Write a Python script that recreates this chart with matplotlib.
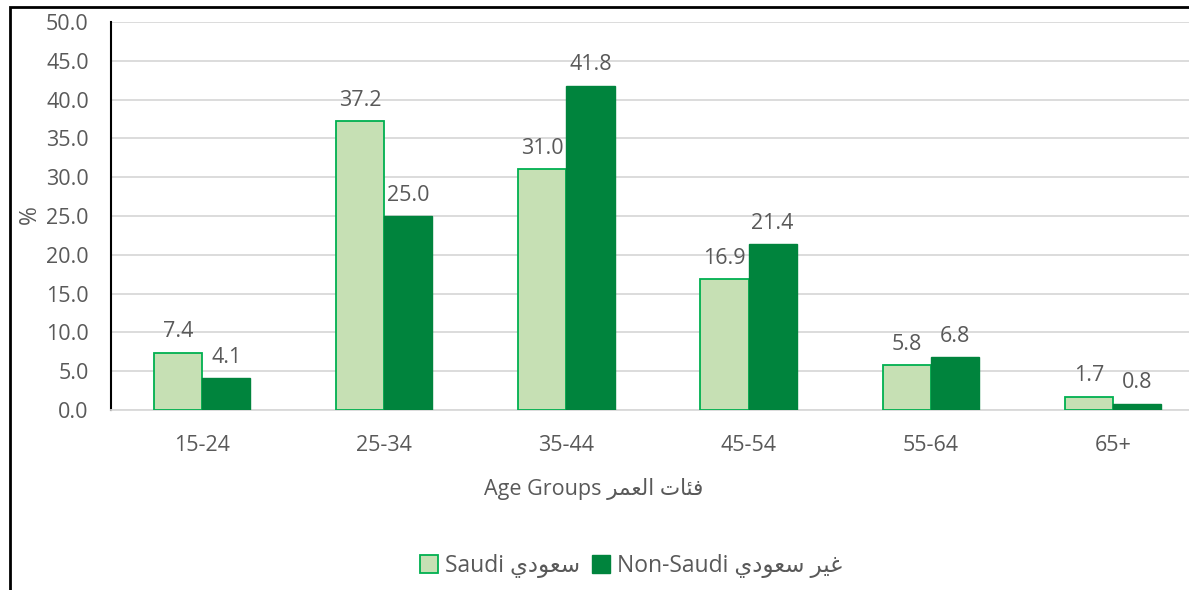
import matplotlib
matplotlib.use("Agg")
import matplotlib.pyplot as plt
import matplotlib.patches as mpatches
import numpy as np

categories = ["15-24", "25-34", "35-44", "45-54", "55-64", "65+"]
saudi = [7.4, 37.2, 31.0, 16.9, 5.8, 1.7]
non_saudi = [4.1, 25.0, 41.8, 21.4, 6.8, 0.8]
y_ticks = [0, 5, 10, 15, 20, 25, 30, 35, 40, 45, 50]

# Arabic text in presentation forms, visual (left-to-right) order
ar_saudi = "\uFEF1\uFEA9\uFEEE\uFECC\uFEB3"            # سعودي
ar_ghair = "\uFEAE\uFEF4\uFECF"                          # غير
ar_age = "\uFEAE\uFEE4\uFECC\uFEDF\uFE8D \uFE95\uFE8E\uFE8C\uFED3"  # فئات العمر
label_saudi = "Saudi " + ar_saudi
label_non = "Non-Saudi " + ar_saudi + " " + ar_ghair
x_title = "Age Groups " + ar_age
y_title = "%"

FAM = ["Open Sans", "DejaVu Sans"]
TXT = "#595959"
FS = 15.5
plt.rcParams["font.family"] = FAM

W, H = 1189, 590
fig = plt.figure(figsize=(W / 100, H / 100), dpi=100)
fig.patch.set_facecolor("white")

ax_left, ax_right, ax_top, ax_bottom = 111, 1204, 22, 410
ax = fig.add_axes([ax_left / W, 1 - ax_bottom / H, (ax_right - ax_left) / W, (ax_bottom - ax_top) / H])

x = np.arange(len(categories))
bw = 0.264
b1 = ax.bar(x - bw / 2, saudi, bw, color="#C6E0B4", edgecolor="#00B050", linewidth=1.3, zorder=3,
            label=label_saudi)
b2 = ax.bar(x + bw / 2, non_saudi, bw, color="#00843D", edgecolor="#00843D", linewidth=1.0, zorder=3,
            label=label_non)

for xi, v in zip(x - bw / 2, saudi):
    ax.annotate(f"{v:.1f}", (xi, v), xytext=(0, 15), textcoords="offset points",
                ha="center", va="center", fontsize=FS, color=TXT)
for xi, v in zip(x + bw / 2, non_saudi):
    ax.annotate(f"{v:.1f}", (xi, v), xytext=(0, 15), textcoords="offset points",
                ha="center", va="center", fontsize=FS, color=TXT)

ax.set_xlim(-0.5, len(categories) - 0.5)
ax.set_ylim(0, 50)
ax.set_yticks(y_ticks)
ax.set_yticklabels([f"{t:.1f}" for t in y_ticks])
ax.set_xticks(x)
ax.set_xticklabels(categories)
ax.tick_params(axis="y", length=0, pad=16, labelsize=FS, labelcolor=TXT)
ax.tick_params(axis="x", length=0, pad=18, labelsize=FS, labelcolor=TXT)
ax.grid(axis="y", color="#D9D9D9", linewidth=1.3, zorder=0)
ax.set_axisbelow(True)
for s in ["top", "right"]:
    ax.spines[s].set_visible(False)
ax.spines["bottom"].set_color("#D9D9D9")
ax.spines["bottom"].set_linewidth(1.3)
ax.spines["left"].set_color("black")
ax.spines["left"].set_linewidth(1.5)

fig.text(30 / W, 1 - 215 / H, y_title, rotation=90, ha="center", va="center", fontsize=FS + 1, color=TXT)
fig.text(594 / W, 1 - 489 / H, x_title, ha="center", va="center", fontsize=FS, color=TXT, family=FAM)

leg = fig.legend(handles=[b1, b2], labels=[label_saudi, label_non], loc="center",
                 bbox_to_anchor=(631 / W, 1 - 566 / H), ncol=2, frameon=False,
                 handlelength=0.8, handleheight=0.8, handletextpad=0.3,
                 columnspacing=0.5, prop={"family": FAM, "size": FS + 1})
for t in leg.get_texts():
    t.set_color(TXT)

border = mpatches.Rectangle((10 / W, -0.2), 1.2, 1 - 7 / H + 0.2, transform=fig.transFigure,
                            fill=False, edgecolor="black", linewidth=2, clip_on=False)
fig.patches.append(border)

fig.savefig("out.png", dpi=100)
